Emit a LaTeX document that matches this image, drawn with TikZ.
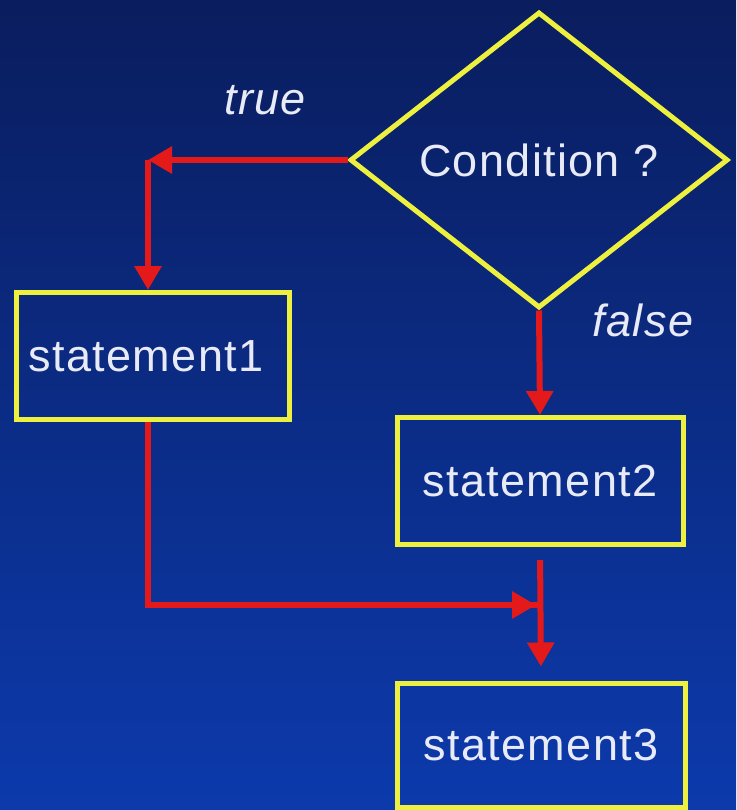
\documentclass[tikz,border=0pt]{standalone}
\usepackage{fontspec}
\setmainfont{Liberation Sans}[LetterSpace=3]
\usetikzlibrary{shapes.geometric,arrows.meta}
\definecolor{bgtop}{HTML}{0A1D5E}
\definecolor{bgbot}{HTML}{0C3AAC}
\definecolor{ylw}{HTML}{EEF040}
\definecolor{rd}{HTML}{E41A1A}
\definecolor{txt}{HTML}{E8EAF6}
\tikzset{
  box/.style={draw=ylw, line width=5pt, rectangle, text=txt, font=\fontsize{45}{50}\selectfont, inner sep=0pt},
  cond/.style={draw=ylw, line width=5pt, diamond, text=txt, font=\fontsize{45}{50}\selectfont, minimum width=378pt, minimum height=296pt, inner sep=0pt},
  lbl/.style={text=txt, font=\fontsize{45}{50}\selectfont\itshape},
  flow/.style={draw=rd, line width=6pt},
  arr/.style={flow, -{Triangle[length=24pt,width=26pt]}},
}
\begin{document}
\begin{tikzpicture}[x=1pt,y=-1pt]
\shade[top color=bgtop, bottom color=bgbot] (0,0) rectangle (736,810);
\useasboundingbox (0,0) rectangle (736,810);
\node[cond] (c) at (539,160) {Condition ?};
\node[box, minimum width=273pt, minimum height=127pt] (s1) at (153,356) {\hspace*{-14pt}statement1};
\node[box, minimum width=286pt, minimum height=127pt] (s2) at (540,481) {statement2};
\node[box, minimum width=288pt, minimum height=124pt] (s3) at (541,745) {statement3};
\node[lbl] (t) at (265,100) {true};
\node[lbl] (f) at (643,320) {false};
\coordinate (c1) at (148,160);
\coordinate (c2) at (148,605);
\coordinate (j) at (540,605);
\draw[arr] (c.west) -- (c1);
\draw[arr] (c1) -- (c1 |- s1.north);
\draw[arr] (c.south) -- (s2.north);
\draw[flow] (c1 |- s1.south) -- (c2) -- (j);
\draw[arr, shorten >=4pt] (c2) -- (j);
\draw[arr, shorten <=13pt, shorten >=14pt] (s2.south) -- (s3.north);
\end{tikzpicture}
\end{document}
